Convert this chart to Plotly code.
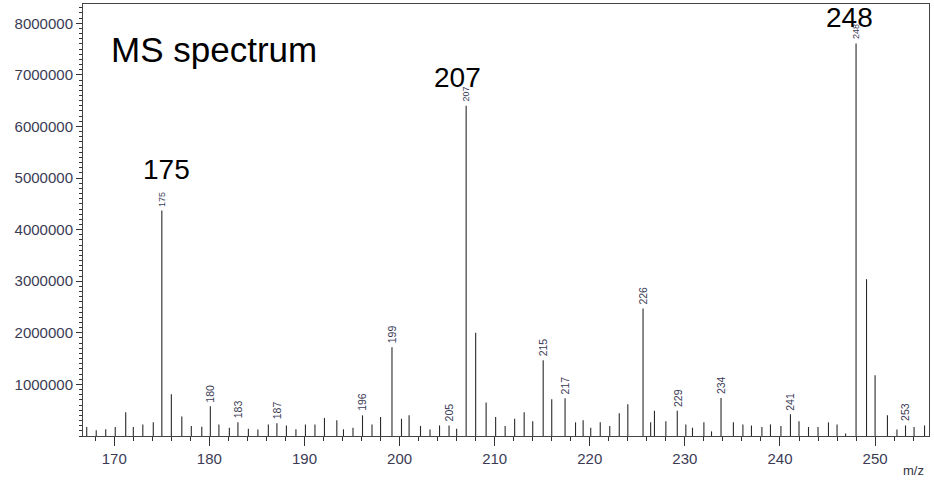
import plotly.graph_objects as go

# m/z positions and intensities
mz = [167.1, 168.1, 169.1, 170.1, 171.2, 172.0, 173.0, 174.1, 175.0, 176.0,
      177.1, 178.1, 179.2, 180.1, 181.0, 182.1, 183.0, 184.1, 185.1, 186.2,
      187.1, 188.1, 189.1, 190.1, 191.1, 192.1, 193.4, 194.1, 195.1, 196.1,
      197.1, 198.0, 199.2, 200.2, 201.0, 202.2, 203.2, 204.2, 205.2, 206.0,
      207.0, 208.0, 209.1, 210.1, 211.1, 212.1, 213.1, 214.0, 215.1, 216.0,
      217.4, 218.5, 219.3, 220.1, 221.1, 222.1, 223.1, 224.0, 225.6, 226.4,
      226.8, 228.0, 229.2, 230.1, 230.8, 232.0, 232.8, 233.8, 235.1, 236.1,
      237.0, 238.1, 239.0, 240.1, 241.1, 242.0, 243.0, 244.0, 245.1, 246.0,
      246.9, 248.0, 249.1, 250.0, 251.3, 252.3, 253.2, 254.1, 255.2]
intensity = [175000, 110000, 130000, 175000, 460000, 175000, 225000, 265000, 4370000, 810000,
             380000, 195000, 180000, 575000, 225000, 160000, 265000, 140000, 125000, 225000,
             245000, 205000, 130000, 225000, 225000, 350000, 305000, 130000, 160000, 400000,
             225000, 370000, 1720000, 335000, 400000, 195000, 125000, 205000, 205000, 140000,
             6400000, 2000000, 650000, 370000, 195000, 335000, 460000, 285000, 1470000, 710000,
             730000, 265000, 305000, 160000, 265000, 195000, 440000, 615000, 2470000, 265000,
             490000, 285000, 490000, 225000, 160000, 265000, 90000, 735000, 265000, 225000,
             205000, 175000, 225000, 195000, 420000, 285000, 175000, 175000, 265000, 225000,
             50000, 7610000, 3040000, 1180000, 400000, 125000, 205000, 175000, 205000]

# small rotated peak labels
peak_labels = ["175", "180", "183", "187", "196", "199", "205", "207",
               "215", "217", "226", "229", "234", "241", "248", "253"]
peak_label_mz = [175.0, 180.1, 183.0, 187.1, 196.1, 199.2, 205.2, 207.0,
                 215.1, 217.4, 225.6, 229.2, 233.8, 241.1, 248.0, 253.2]

# big call-outs
big_labels = ["175", "207", "248"]
big_label_mz = [175.0, 207.0, 248.0]

x_ticks = [170, 180, 190, 200, 210, 220, 230, 240, 250]
y_ticks = [1000000, 2000000, 3000000, 4000000, 5000000, 6000000, 7000000, 8000000]

xs, ys = [], []
for m, v in zip(mz, intensity):
    xs += [m, m, None]
    ys += [0, v, None]

fig = go.Figure()
fig.add_trace(go.Scatter(x=xs, y=ys, mode="lines",
                         line=dict(color="#2a2a2a", width=1.1),
                         hoverinfo="skip", showlegend=False))

lookup = dict(zip(mz, intensity))
for lab, m in zip(peak_labels, peak_label_mz):
    small = lab in big_labels
    fig.add_annotation(x=m, y=lookup[m], text=lab, textangle=-90, showarrow=False,
                       xanchor="center", yanchor="bottom", yshift=2,
                       font=dict(family="Liberation Sans, Arial", size=9 if small else 10.5,
                                 color="#3a3a55"))

big_offsets = [(5, 41), (-9, 28), (-7, 26)]
for lab, m, (dx, dy) in zip(big_labels, big_label_mz, big_offsets):
    fig.add_annotation(x=m, y=lookup[m], text=lab, showarrow=False,
                       xanchor="center", yanchor="middle", xshift=dx, yshift=dy,
                       font=dict(family="Liberation Sans, Arial", size=28, color="black"))

fig.add_annotation(xref="paper", yref="paper", x=0.031, y=0.895, text="MS spectrum",
                   showarrow=False, xanchor="left", yanchor="middle",
                   font=dict(family="Liberation Sans, Arial", size=35, color="black"))

fig.add_annotation(xref="paper", yref="paper", x=0.997, y=-0.079, text="m/z",
                   showarrow=False, xanchor="right", yanchor="middle",
                   font=dict(family="Liberation Sans, Arial", size=13, color="#333344"))

fig.update_xaxes(range=[166.71, 255.67], tickvals=x_ticks,
                 ticktext=[str(t) for t in x_ticks],
                 ticks="outside", ticklen=9, tickcolor="#333",
                 minor=dict(dtick=2, tick0=170, ticks="outside", ticklen=4, tickcolor="#333"),
                 showline=True, linecolor="#444", linewidth=1, mirror=True,
                 showgrid=False, zeroline=False,
                 tickfont=dict(family="Liberation Sans, Arial", size=15, color="#3b3b55"))
fig.update_yaxes(range=[0, 8374000], tickvals=y_ticks,
                 ticktext=[str(t) for t in y_ticks],
                 ticks="outside", ticklen=6, tickcolor="#333",
                 minor=dict(dtick=100000, tick0=0, ticks="outside", ticklen=3, tickcolor="#333"),
                 showline=True, linecolor="#444", linewidth=1, mirror=True,
                 showgrid=False, zeroline=False,
                 tickfont=dict(family="Liberation Sans, Arial", size=15, color="#3b3b55"))

fig.update_layout(width=934, height=483, margin=dict(l=83, r=5, t=4, b=47),
                  plot_bgcolor="white", paper_bgcolor="white")

fig.write_html("out.html")
